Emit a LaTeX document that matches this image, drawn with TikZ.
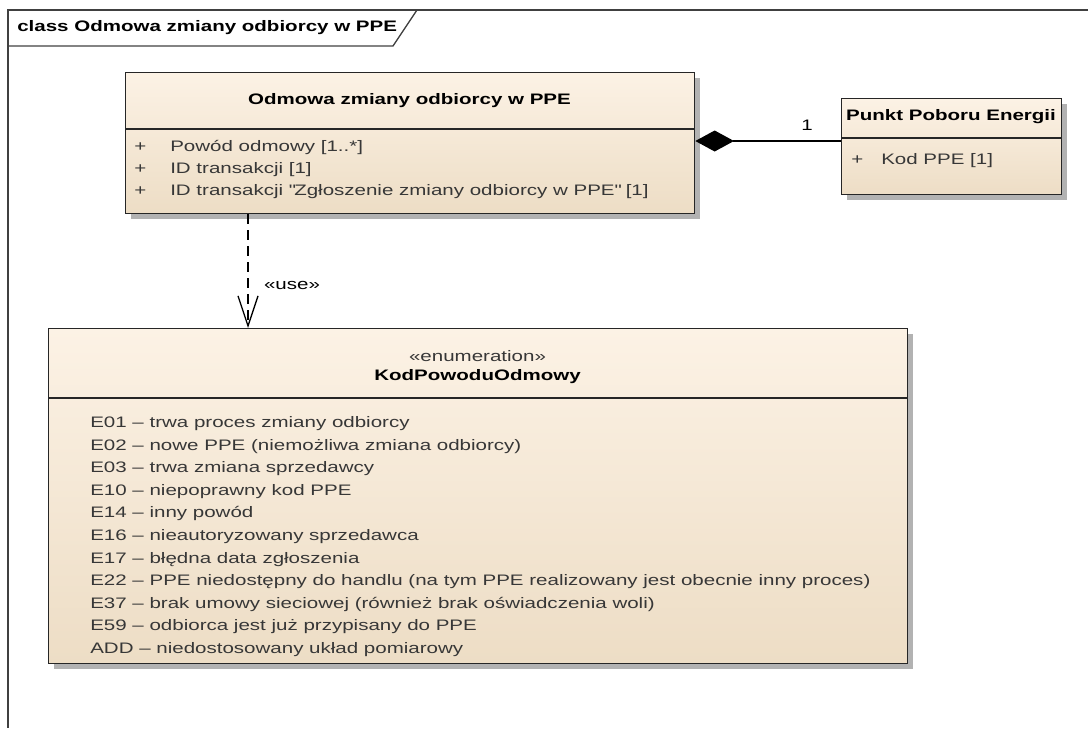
\documentclass[tikz,border=0pt]{standalone}
\usepackage{fontspec}
\setmainfont{Liberation Sans}[FakeStretch=1.35]
\usetikzlibrary{arrows.meta,shadows}
\definecolor{boxtop}{RGB}{252,242,229}
\definecolor{boxbot}{RGB}{237,221,197}
\definecolor{txtgray}{RGB}{55,55,55}

\begin{document}
\begin{tikzpicture}[x=0.75pt,y=-0.75pt,
  umlbox/.style={draw=black!85,line width=1pt,top color=boxtop,bottom color=boxbot,
    anchor=north west,inner sep=0pt,
    drop shadow={shadow xshift=3.75pt,shadow yshift=-3.75pt,fill=black!30,opacity=1}},
  sep/.style={draw=black!85,line width=1pt},
  head/.style={font=\fontsize{11.4}{13}\selectfont\bfseries,inner sep=0pt},
  attr/.style={font=\fontsize{11.4}{13}\selectfont,text=txtgray,anchor=base west,inner sep=0pt}]
\useasboundingbox (0,0) rectangle (1088,728);
% diagram frame
\draw[black!75,line width=1pt] (1088,10) -- (8,10) -- (8,728);
\draw[black!75,line width=1pt] (8,46) -- (393,46) -- (417,10);
\node[head,anchor=west] (frametitle) at (17,28) {class Odmowa zmiany odbiorcy w PPE};

% classes
\node[umlbox,minimum width=426.75pt,minimum height=105.75pt] (odm) at (125,72) {};
\draw[sep] ([yshift=-42.75pt]odm.north west) -- ([yshift=-42.75pt]odm.north east);
\node[head] (odmname) at (409.5,101) {Odmowa zmiany odbiorcy w PPE};
\node[attr] (odma1) at (134,151.5) {\makebox[27pt][l]{+}Powód odmowy [1..*]};
\node[attr] (odma2) at (134,173.5) {\makebox[27pt][l]{+}ID transakcji [1]};
\node[attr] (odma3) at (134,195.5) {\makebox[27pt][l]{+}ID transakcji \textquotedbl Zgłoszenie zmiany odbiorcy w PPE\textquotedbl{} [1]};

\node[umlbox,minimum width=165pt,minimum height=72pt] (ppe) at (841,98) {};
\draw[sep] ([yshift=-30pt]ppe.north west) -- ([yshift=-30pt]ppe.north east);
\node[head] (ppename) at (951,117) {Punkt Poboru Energii};
\node[attr] (ppea1) at (851,164.5) {\makebox[22.5pt][l]{+}Kod PPE [1]};

% enumeration
\node[umlbox,minimum width=644.25pt,minimum height=251.25pt] (enum) at (48,328) {};
\draw[sep] ([yshift=-52.5pt]enum.north west) -- ([yshift=-52.5pt]enum.north east);
\node[attr,anchor=center] (enumst) at (477.5,356) {«enumeration»};
\node[head] (enumname) at (477.5,377) {KodPowoduOdmowy};
\foreach \txt [count=\i] in {E01 – trwa proces zmiany odbiorcy,
  E02 – nowe PPE (niemożliwa zmiana odbiorcy),
  E03 – trwa zmiana sprzedawcy,
  E10 – niepoprawny kod PPE,
  E14 – inny powód,
  E16 – nieautoryzowany sprzedawca,
  E17 – błędna data zgłoszenia,
  E22 – PPE niedostępny do handlu (na tym PPE realizowany jest obecnie inny proces),
  E37 – brak umowy sieciowej (również brak oświadczenia woli),
  E59 – odbiorca jest już przypisany do PPE,
  ADD – niedostosowany układ pomiarowy}
  \node[attr] (item\i) at (90,{427.5+22.6*(\i-1)}) {\txt};

% connectors
\draw[line width=1pt,-{Diamond[length=29pt,width=15.75pt]}]
  ([yshift=-32.25pt]ppe.north west) -- ([yshift=-32.25pt]ppe.north west -| odm.east);
\node[attr,anchor=center,text=black] (mult) at (807,125) {1};
\draw[line width=1pt,dash pattern=on 7.5pt off 4.5pt,-{Straight Barb[length=22.5pt,width=15pt]}]
  ([xshift=92.25pt]odm.south west) -- ([xshift=92.25pt]odm.south west |- enum.north);
\node[attr,anchor=center,text=black] (uselbl) at (292,285) {«use»};
\end{tikzpicture}
\end{document}
